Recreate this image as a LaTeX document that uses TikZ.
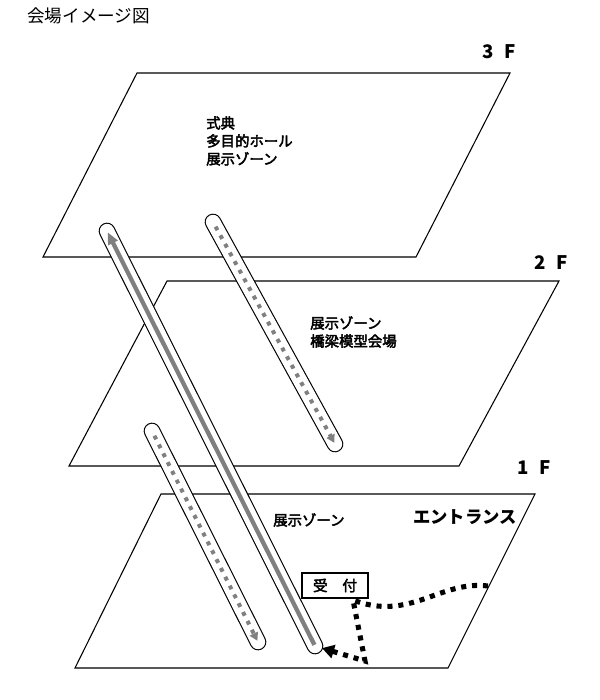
\documentclass[tikz,border=0pt]{standalone}
\usepackage{xcolor}
\usepackage{fontspec}
\newfontfamily\jp{Noto Sans CJK JP}
\newfontfamily\jpm{Noto Sans CJK JP}[FakeBold=3]
\usepackage{tikz}
\usetikzlibrary{arrows.meta, calc}
\definecolor{tubegray}{RGB}{128,128,128}
\definecolor{mydark}{RGB}{0,0,0}
\tikzset{
  floor/.style={draw=mydark, line width=0.8pt, fill=white},
  tubeout/.style={line width=12.5pt, line cap=round, color=mydark},
  tubein/.style={line width=10.8pt, line cap=round, color=white},
  liftpath/.style={line width=3.2pt, color=tubegray, -{Triangle[length=9pt,width=7.5pt]}},
  stairpath/.style={line width=3pt, color=tubegray, dash pattern=on 3pt off 4.4pt, -{Triangle[length=6pt,width=6.5pt]}},
  walkpath/.style={line width=3.8pt, color=mydark, dash pattern=on 3.8pt off 4.4pt, -{Triangle[length=9pt,width=10pt]}},
  zonetext/.style={font=\jpm\fontsize{10.8}{13.5}\selectfont, align=left, anchor=north west, inner sep=0pt},
  floortag/.style={font=\jp\bfseries\fontsize{14}{14}\selectfont, inner sep=0pt},
  deskbox/.style={draw=mydark, line width=0.8pt, fill=white, minimum width=49.5pt, minimum height=18.75pt,
    inner sep=0pt, font=\jpm\fontsize{11}{11}\selectfont}
}
\begin{document}
\begin{tikzpicture}[x=0.75pt, y=-0.75pt]
  \useasboundingbox (0,0) rectangle (600,700);

  \node[anchor=west, inner sep=0pt, font=\jp\fontsize{13.2}{13.2}\selectfont] (title) at (27,16) {会場イメージ図};

  \draw[floor] (137,73) -- (510,73) -- (416,257) -- (43,257) -- cycle;
  \draw[floor] (167,281) -- (559,281) -- (459,466) -- (69,466) -- cycle;
  \draw[floor] (161,494) -- (535,494) -- (448,668) -- (75,668) -- cycle;

  \node[floortag] (f3) at (499,52) {3\hspace{0.6em}F};
  \node[floortag] (f2) at (551,263) {2\hspace{0.6em}F};
  \node[floortag] (f1) at (534,468) {1\hspace{0.6em}F};

  \node[zonetext] (zone3) at (206,116) {式典\\多目的ホール\\展示ゾーン};
  \node[zonetext] (zone2) at (310,316) {展示ゾーン\\橋梁模型会場};
  \node[zonetext] (zone1) at (273,513) {展示ゾーン};
  \node[anchor=west, inner sep=0pt, font=\jp\bfseries\fontsize{13}{13}\selectfont] (entrance) at (413,517) {エントランス};
  \node[deskbox] (desk) at (335,585.5) {受　付};

  \coordinate (lifttop) at (107,231);
  \coordinate (liftbot) at (315,646);
  \coordinate (up3) at (213,222);
  \coordinate (dn2) at (335,444);
  \coordinate (up2) at (152,431);
  \coordinate (dn1) at (258,642);

  \foreach \a/\b in {lifttop/liftbot, up3/dn2, up2/dn1} {
    \draw[tubeout] (\a) -- (\b);
    \draw[tubein] (\a) -- (\b);
  }
  \draw[liftpath, shorten <=1pt, shorten >=1pt] (liftbot) -- (lifttop);
  \draw[stairpath, shorten <=4pt, shorten >=1pt] (up3) -- (dn2);
  \draw[stairpath, shorten <=4pt, shorten >=1pt] (up2) -- (dn1);

  \coordinate (gate) at (488,586);
  \coordinate (deskcorner) at (353,600);
  \coordinate (walkturn) at (365,661);
  \draw[walkpath] (gate) .. controls (440,580) and (410,622) .. (deskcorner) -- (walkturn) -- ($(liftbot)!0.14!(walkturn)$);
\end{tikzpicture}
\end{document}
